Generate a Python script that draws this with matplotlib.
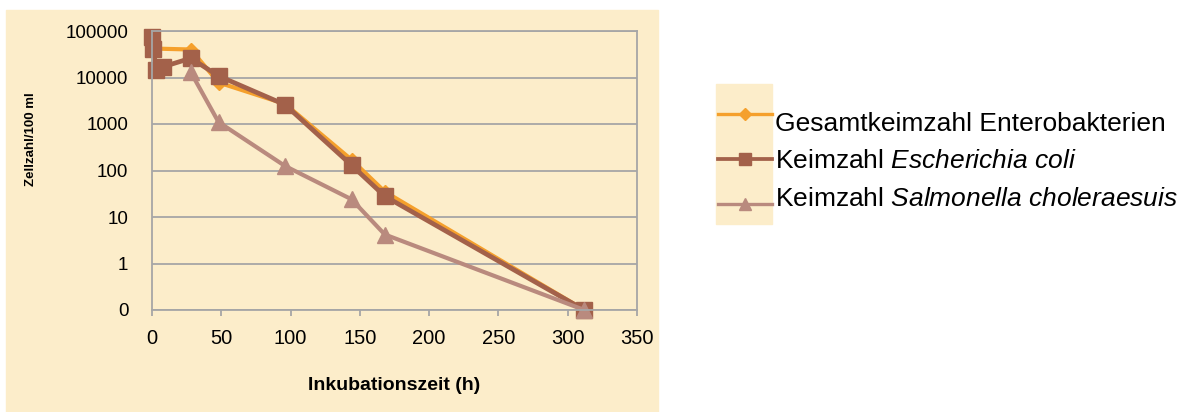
import matplotlib
matplotlib.use("Agg")
import matplotlib.pyplot as plt
from matplotlib.lines import Line2D
from matplotlib.patches import Rectangle
from matplotlib.ticker import NullLocator

# Inkubationszeit (h) und Keimzahlen je 100 ml
zeit_gesamt = [0, 28, 48, 96, 144, 168, 312]
gesamt = [42000, 40000, 7800, 2700, 170, 35, 0.1]

zeit_coli = [0, 1, 3, 8, 28, 48, 96, 144, 168, 312]
coli = [75000, 42000, 14500, 17000, 26000, 10800, 2600, 130, 28, 0.1]

zeit_salm = [28, 48, 96, 144, 168, 312]
salm = [13000, 1100, 125, 24, 4.2, 0.1]

labels = ["Gesamtkeimzahl Enterobakterien",
          r"Keimzahl $\mathit{Escherichia\ coli}$",
          r"Keimzahl $\mathit{Salmonella\ choleraesuis}$"]

y_ticks = [0.1, 1, 10, 100, 1000, 10000, 100000]
y_ticklabels = ["0", "1", "10", "100", "1000", "10000", "100000"]
x_ticks = [0, 50, 100, 150, 200, 250, 300, 350]

BEIGE = "#FCEDCA"
GRID = "#A6A6A6"
ORANGE = "#F5A02C"
BROWN = "#A3614A"
ROSE = "#B98A7E"

plt.rcParams["font.family"] = ["Liberation Sans", "DejaVu Sans"]
plt.rcParams["mathtext.fontset"] = "custom"
plt.rcParams["mathtext.rm"] = "Liberation Sans"
plt.rcParams["mathtext.it"] = "Liberation Sans:italic"

W, H = 1178, 412
fig = plt.figure(figsize=(W / 100, H / 100), dpi=100)

def px(x, y):
    return x / W, 1 - y / H

# Hintergrund des Diagrammbereichs
fig.add_artist(Rectangle(px(6, 412), (658 - 6) / W, (412 - 10) / H,
                         transform=fig.transFigure, color=BEIGE, zorder=0))

left, top = px(152, 31)
_, bottom = px(152, 310)
ax = fig.add_axes([left, bottom, (637 - 152) / W, top - bottom])
ax.set_facecolor(BEIGE)

series = [
    (zeit_gesamt, gesamt, ORANGE, 3.0, "D", 7.5),
    (zeit_coli, coli, BROWN, 3.4, "s", 11.5),
    (zeit_salm, salm, ROSE, 3.0, "^", 11),
]
for x, y, c, lw, m, ms in series:
    ax.plot(x, y, color=c, lw=lw, marker=m, ms=ms, clip_on=False)

ax.set_yscale("log")
ax.set_ylim(0.1, 100000)
ax.set_xlim(0, 350)
ax.set_yticks(y_ticks)
ax.set_yticklabels(y_ticklabels)
ax.yaxis.set_minor_locator(NullLocator())
ax.set_xticks(x_ticks)
ax.set_xticklabels([str(t) for t in x_ticks], fontsize=14.5)

ax.yaxis.grid(True, color=GRID, lw=1.3)
ax.set_axisbelow(True)
for s in ax.spines.values():
    s.set_color(GRID)
    s.set_linewidth(1.3)
ax.tick_params(axis="y", length=0, pad=17, labelsize=13.6)
ax.tick_params(axis="x", direction="out", length=4.5, width=1.3, color=GRID, pad=9)

fig.text(*px(394, 386), "Inkubationszeit (h)", ha="center", va="center",
         fontweight="bold", fontsize=14)
fig.text(*px(31, 139), "Zellzahl/100 ml", ha="center", va="center", rotation=90,
         fontweight="bold", fontsize=9.5)

# Legende: Symbole auf beigem Feld, Text daneben
fig.add_artist(Rectangle(px(716, 224), (772 - 716) / W, (224 - 84) / H,
                         transform=fig.transFigure, color=BEIGE, zorder=0))
handle_y = [114, 159, 204]
text_base = [131, 168, 206]
legend_ms = [6, 8.5, 8.5]
for (x, y, c, lw, m, ms), hy, ty, lab, lms in zip(series, handle_y, text_base,
                                                  labels, legend_ms):
    x0, yy = px(718, hy)
    x1, _ = px(772, hy)
    fig.add_artist(Line2D([x0, x1], [yy, yy], color=c, lw=lw * 0.8,
                          transform=fig.transFigure))
    fig.add_artist(Line2D([(x0 + x1) / 2], [yy], color=c, marker=m, ms=lms,
                          transform=fig.transFigure))
    fig.text(*px(775, ty), lab, ha="left", va="baseline", fontsize=19)

fig.savefig("out.png", dpi=100, facecolor="white")
